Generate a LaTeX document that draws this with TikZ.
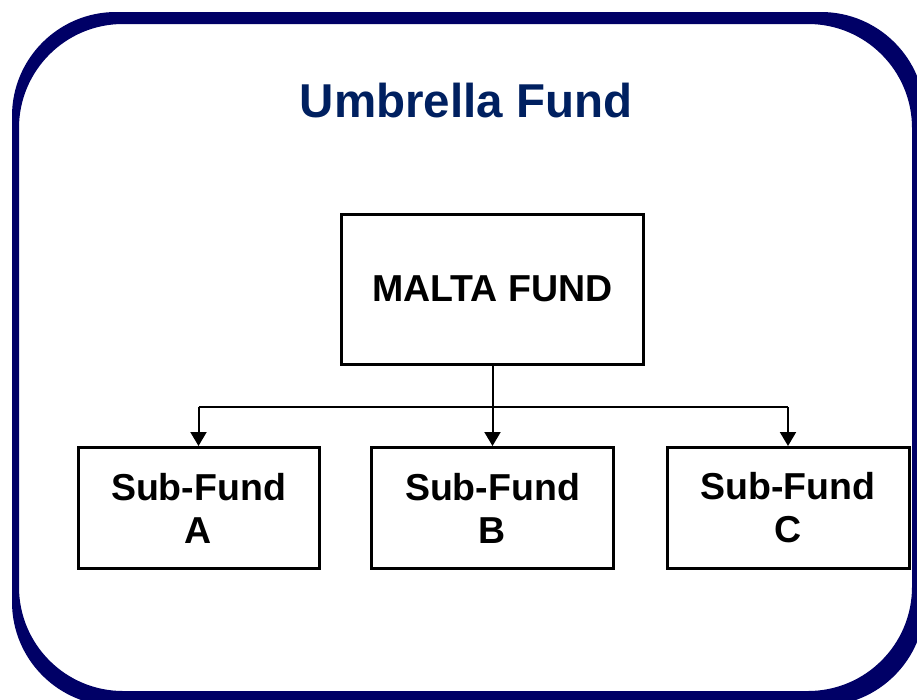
\documentclass[tikz,border=0pt]{standalone}
\usepackage{fontspec}
\setmainfont{Liberation Sans}
\usetikzlibrary{arrows.meta}
\definecolor{frame}{RGB}{0,0,102}
\definecolor{titleblue}{RGB}{0,32,96}
\tikzset{
  fundbox/.style={draw=black, line width=3pt, fill=white, align=center,
    font=\bfseries\fontsize{37.5}{43}\selectfont, inner sep=0pt},
  link/.style={draw=black, line width=2pt, -{Triangle[width=16pt,length=14pt]}},
  bus/.style={draw=black, line width=2pt}
}
\begin{document}
\begin{tikzpicture}[x=1pt,y=-1pt]
  \useasboundingbox (0,0) rectangle (917,699);
  \fill[white] (0,0) rectangle (917,699);
  % umbrella frame: ring between two rounded rectangles
  \fill[frame, even odd rule, rounded corners=104pt]
    (12,12) rectangle (925,706)
    (19,24) rectangle (912,691);
  \node[text=titleblue, font=\bfseries\fontsize{47.5}{56}\selectfont, anchor=base]
    (title) at (466,117) {Umbrella Fund};
  % fund boxes
  \node[fundbox, minimum width=302pt, minimum height=150pt] (malta) at (492.5,289) {MALTA FUND};
  \node[fundbox, minimum width=241pt, minimum height=121pt] (subA) at (198.5,508) {Sub-Fund\\A};
  \node[fundbox, minimum width=242pt, minimum height=121pt] (subB) at (492.5,508) {Sub-Fund\\B};
  \node[fundbox, minimum width=242pt, minimum height=121pt] (subC) at (788,508) {Sub-Fund\\C};
  % connectors
  \coordinate (busA) at (subA.north |- 0,407);
  \coordinate (busC) at (subC.north |- 0,407);
  \path[bus] (busA) -- (busC);
  \path[link] (malta.south) -- (subB.north);
  \path[link] (busA) -- (subA.north);
  \path[link] (busC) -- (subC.north);
\end{tikzpicture}
\end{document}
